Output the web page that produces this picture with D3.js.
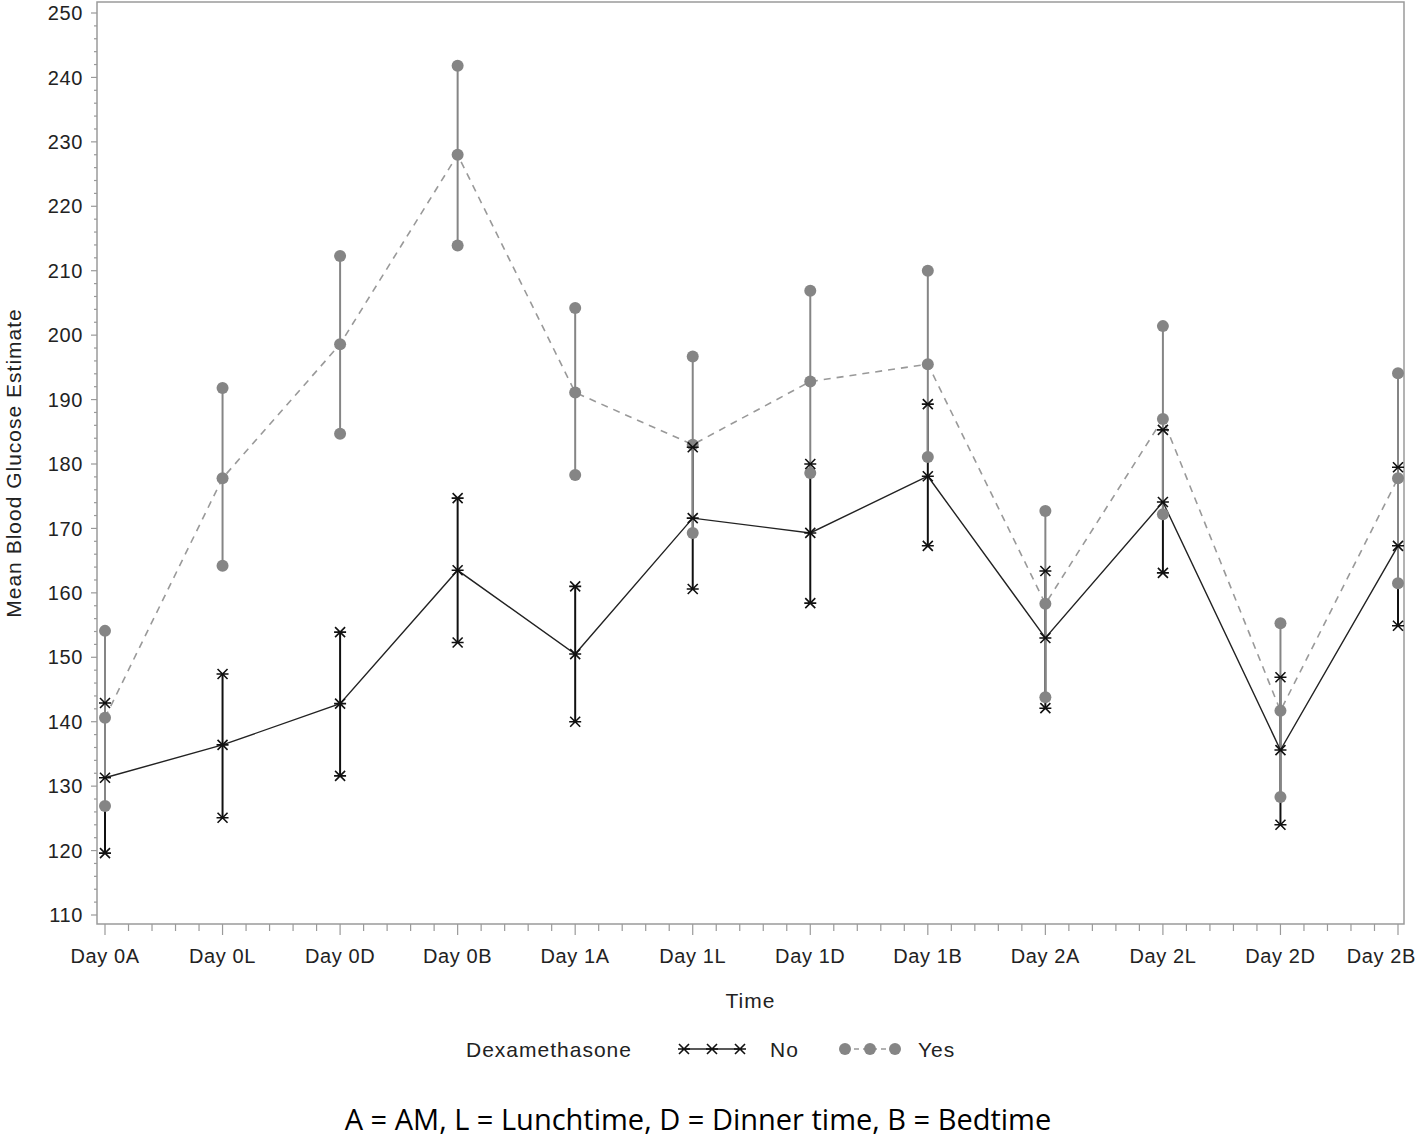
<!DOCTYPE html>
<html>
<head>
<meta charset="utf-8">
<script src="https://cdn.jsdelivr.net/npm/d3@7"></script>
<style>
  body { margin: 0; background: #fff; }
  text { font-family: "Liberation Sans", Arial, sans-serif; fill: #222; }
</style>
</head>
<body>
<svg id="chart"></svg>
<script>
const width = 1418;
const height = 1141;

// categories on the x axis
const times = ["Day 0A", "Day 0L", "Day 0D", "Day 0B", "Day 1A", "Day 1L",
               "Day 1D", "Day 1B", "Day 2A", "Day 2L", "Day 2D", "Day 2B"];

// Dexamethasone = No
const noMean  = [131.3, 136.4, 142.8, 163.5, 150.5, 171.6, 169.3, 178.1, 153.0, 174.1, 135.6, 167.3];
const noLower = [119.6, 125.1, 131.6, 152.3, 140.0, 160.6, 158.4, 167.3, 142.1, 163.1, 124.0, 154.9];
const noUpper = [142.9, 147.4, 153.9, 174.7, 161.0, 182.6, 180.0, 189.3, 163.4, 185.3, 146.9, 179.5];

// Dexamethasone = Yes
const yesMean  = [140.6, 177.8, 198.6, 228.0, 191.1, 183.0, 192.8, 195.5, 158.3, 187.0, 141.7, 177.8];
const yesLower = [126.9, 164.2, 184.7, 213.9, 178.3, 169.3, 178.6, 181.1, 143.8, 172.2, 128.3, 161.5];
const yesUpper = [154.1, 191.8, 212.3, 241.8, 204.2, 196.7, 206.9, 210.0, 172.7, 201.4, 155.3, 194.1];

const yTicks = d3.range(110, 251, 10);

const frame = { left: 97, right: 1404, top: 2, bottom: 924 };

const svg = d3.select("#chart")
    .attr("width", width)
    .attr("height", height);

const x = d3.scalePoint()
    .domain(times)
    .range([105, 1398]);

const y = d3.scaleLinear()
    .domain([110, 250])
    .range([915, 13]);

const grey = "#858585";
const axisGrey = "#9a9a9a";

// plot frame
svg.append("rect")
    .attr("x", frame.left)
    .attr("y", frame.top)
    .attr("width", frame.right - frame.left)
    .attr("height", frame.bottom - frame.top)
    .attr("fill", "none")
    .attr("stroke", axisGrey)
    .attr("stroke-width", 1.5);

// y axis ticks (major every 10, minor every 2)
const yAxis = svg.append("g");
yAxis.selectAll(".minor")
    .data(d3.range(110, 251, 2).filter(v => v % 10 !== 0))
  .enter().append("line")
    .attr("x1", frame.left - 3).attr("x2", frame.left)
    .attr("y1", d => y(d)).attr("y2", d => y(d))
    .attr("stroke", axisGrey).attr("stroke-width", 1.2);
yAxis.selectAll(".major")
    .data(yTicks)
  .enter().append("line")
    .attr("x1", frame.left - 6).attr("x2", frame.left)
    .attr("y1", d => y(d)).attr("y2", d => y(d))
    .attr("stroke", axisGrey).attr("stroke-width", 1.2);
yAxis.selectAll("text")
    .data(yTicks)
  .enter().append("text")
    .attr("x", 83)
    .attr("y", d => y(d))
    .attr("dy", "0.36em")
    .attr("text-anchor", "end")
    .attr("font-size", 20)
    .attr("letter-spacing", 0.6)
    .text(d => d);

// x axis ticks (major at categories, 4 minor between)
const xi = d3.scaleLinear().domain([0, times.length - 1]).range(x.range());
const xAxis = svg.append("g");
xAxis.selectAll(".minor")
    .data(d3.range(0, (times.length - 1) * 5 + 1).filter(i => i % 5 !== 0).map(i => i / 5))
  .enter().append("line")
    .attr("x1", d => xi(d)).attr("x2", d => xi(d))
    .attr("y1", frame.bottom).attr("y2", frame.bottom + 7)
    .attr("stroke", axisGrey).attr("stroke-width", 1.2);
xAxis.selectAll(".major")
    .data(times)
  .enter().append("line")
    .attr("x1", d => x(d)).attr("x2", d => x(d))
    .attr("y1", frame.bottom).attr("y2", frame.bottom + 11)
    .attr("stroke", axisGrey).attr("stroke-width", 1.2);
// last label is pushed left so it stays inside the page
xAxis.selectAll("text")
    .data(times)
  .enter().append("text")
    .attr("x", (d, i) => i === times.length - 1 ? width - 2 : x(d))
    .attr("y", 963)
    .attr("text-anchor", (d, i) => i === times.length - 1 ? "end" : "middle")
    .attr("font-size", 20)
    .attr("letter-spacing", 0.6)
    .text(d => d);

// axis titles
svg.append("text")
    .attr("x", (frame.left + frame.right) / 2)
    .attr("y", 1008)
    .attr("text-anchor", "middle")
    .attr("font-size", 21)
    .attr("letter-spacing", 1)
    .text("Time");

svg.append("text")
    .attr("transform", `translate(21,${(frame.top + frame.bottom) / 2}) rotate(-90)`)
    .attr("text-anchor", "middle")
    .attr("font-size", 21)
    .attr("letter-spacing", 1)
    .text("Mean Blood Glucose Estimate");

// asterisk marker
const star = "M-6,0H6M-5,-5L5,5M-5,5L5,-5";

const noData = times.map((t, i) => ({ t, mean: noMean[i], lo: noLower[i], hi: noUpper[i] }));
const yesData = times.map((t, i) => ({ t, mean: yesMean[i], lo: yesLower[i], hi: yesUpper[i] }));

// error bars: No first, Yes on top
svg.append("g").selectAll("line")
    .data(noData)
  .enter().append("line")
    .attr("x1", d => x(d.t)).attr("x2", d => x(d.t))
    .attr("y1", d => y(d.lo)).attr("y2", d => y(d.hi))
    .attr("stroke", "#111").attr("stroke-width", 2);

svg.append("g").selectAll("line")
    .data(yesData)
  .enter().append("line")
    .attr("x1", d => x(d.t)).attr("x2", d => x(d.t))
    .attr("y1", d => y(d.lo)).attr("y2", d => y(d.hi))
    .attr("stroke", grey).attr("stroke-width", 2);

const line = d3.line()
    .x(d => x(d.t))
    .y(d => y(d.mean));

svg.append("path")
    .datum(noData)
    .attr("d", line)
    .attr("fill", "none")
    .attr("stroke", "#222")
    .attr("stroke-width", 1.4);

svg.append("path")
    .datum(yesData)
    .attr("d", line)
    .attr("fill", "none")
    .attr("stroke", "#999")
    .attr("stroke-width", 1.6)
    .attr("stroke-dasharray", "7,6");

// markers
const yesPts = yesData.flatMap(d => [d.lo, d.mean, d.hi].map(v => ({ t: d.t, v })));
svg.append("g").selectAll("circle")
    .data(yesPts)
  .enter().append("circle")
    .attr("cx", d => x(d.t))
    .attr("cy", d => y(d.v))
    .attr("r", 6)
    .attr("fill", grey);

const noPts = noData.flatMap(d => [d.lo, d.mean, d.hi].map(v => ({ t: d.t, v })));
svg.append("g").selectAll("path")
    .data(noPts)
  .enter().append("path")
    .attr("transform", d => `translate(${x(d.t)},${y(d.v)})`)
    .attr("d", star)
    .attr("fill", "none")
    .attr("stroke", "#111")
    .attr("stroke-width", 1.6);

// legend
const legendY = 1049;
const legend = svg.append("g");
legend.append("text")
    .attr("x", 466).attr("y", legendY)
    .attr("dy", "0.36em")
    .attr("font-size", 21)
    .attr("letter-spacing", 1)
    .text("Dexamethasone");

legend.append("line")
    .attr("x1", 684).attr("x2", 740)
    .attr("y1", legendY).attr("y2", legendY)
    .attr("stroke", "#222").attr("stroke-width", 1.4);
legend.selectAll(".lstar")
    .data([684, 712, 740])
  .enter().append("path")
    .attr("transform", d => `translate(${d},${legendY})`)
    .attr("d", star)
    .attr("fill", "none")
    .attr("stroke", "#111")
    .attr("stroke-width", 1.6);
legend.append("text")
    .attr("x", 770).attr("y", legendY)
    .attr("dy", "0.36em")
    .attr("font-size", 21)
    .attr("letter-spacing", 1)
    .text("No");

legend.append("line")
    .attr("x1", 845).attr("x2", 895)
    .attr("y1", legendY).attr("y2", legendY)
    .attr("stroke", "#999").attr("stroke-width", 1.6)
    .attr("stroke-dasharray", "5,4");
legend.selectAll(".ldot")
    .data([845, 870, 895])
  .enter().append("circle")
    .attr("cx", d => d).attr("cy", legendY)
    .attr("r", 6)
    .attr("fill", grey);
legend.append("text")
    .attr("x", 918).attr("y", legendY)
    .attr("dy", "0.36em")
    .attr("font-size", 21)
    .attr("letter-spacing", 1)
    .text("Yes");

// footnote
svg.append("text")
    .attr("x", 698).attr("y", 1130)
    .attr("text-anchor", "middle")
    .attr("font-size", 29)
    .style("font-family", "'Open Sans', sans-serif")
    .style("fill", "#000")
    .text("A = AM, L = Lunchtime, D = Dinner time, B = Bedtime");
</script>
</body>
</html>
